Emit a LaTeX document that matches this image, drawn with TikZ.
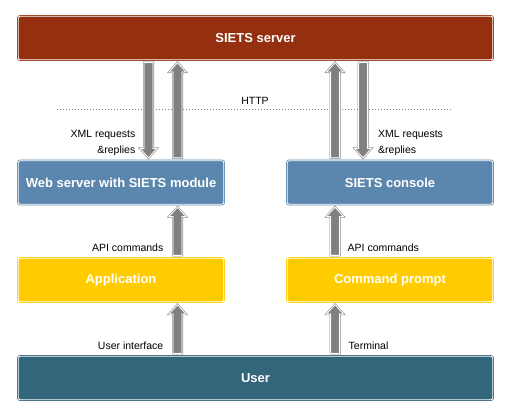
\documentclass[tikz,border=0pt]{standalone}
\usepackage{fontspec}
\setmainfont{Liberation Sans}
\usetikzlibrary{calc}
\definecolor{srv}{RGB}{148,48,16}
\definecolor{blu}{RGB}{91,135,174}
\definecolor{yel}{RGB}{255,204,0}
\definecolor{usr}{RGB}{51,102,122}
\definecolor{arr}{RGB}{128,128,128}
\definecolor{arrline}{RGB}{140,140,140}
\tikzset{
  box/.style={rectangle, rounded corners=2pt, line width=0.7pt, double=white, double distance=0.9pt,
    inner sep=0pt, minimum height=43.5pt, text=white, font=\fontsize{13}{15}\selectfont\bfseries},
  lbl/.style={inner sep=0pt, font=\fontsize{10.5}{16}\selectfont},
  blk/.style={draw=arrline, fill=arr, line width=0.6pt, double=white, double distance=0.8pt}
}
\newcommand{\uparr}[2]{%
  \path let \p1=(#1), \p2=(#2) in
   [blk] (\x1-4.5pt,\y1+2.5pt) -- (\x1-4.5pt,\y2-12pt) -- (\x1-8.5pt,\y2-12pt) -- (\x1,\y2-2.5pt)
   -- (\x1+8.5pt,\y2-12pt) -- (\x1+4.5pt,\y2-12pt) -- (\x1+4.5pt,\y1+2.5pt) -- cycle;}
\newcommand{\downarr}[2]{%
  \path let \p1=(#1), \p2=(#2) in
   [blk] (\x1-4.5pt,\y1-2.5pt) -- (\x1-4.5pt,\y2+12pt) -- (\x1-8.5pt,\y2+12pt) -- (\x1,\y2+2.5pt)
   -- (\x1+8.5pt,\y2+12pt) -- (\x1+4.5pt,\y2+12pt) -- (\x1+4.5pt,\y1-2.5pt) -- cycle;}
\begin{document}
\begin{tikzpicture}[x=1pt,y=-1pt]
\useasboundingbox (0,0) rectangle (508,411);
\node[box, draw=srv, fill=srv, minimum width=474.5pt] (server) at (255.5,38) {SIETS server};
\node[box, draw=blu, fill=blu, minimum width=205.5pt] (web) at (121,182.5) {Web server with SIETS module};
\node[box, draw=blu, fill=blu, minimum width=205.5pt] (console) at (390,182.5) {SIETS console};
\node[box, draw=yel, fill=yel, minimum width=205.5pt] (app) at (121,280) {Application};
\node[box, draw=yel, fill=yel, minimum width=205.5pt] (cmd) at (390,280) {Command prompt};
\node[box, draw=usr, fill=usr, minimum width=474.5pt] (user) at (255.5,378) {User};

\coordinate (hl) at (57,110);
\coordinate (hr) at (452,110);
\draw[arr, dotted, line width=1pt] (hl) -- (hr);
\node[lbl] (http) at (255,101) {HTTP};

\downarr{server.south -| 148.5,0}{web.north -| 148.5,0}
\uparr{web.north -| 177.5,0}{server.south -| 177.5,0}
\uparr{console.north -| 335,0}{server.south -| 335,0}
\downarr{server.south -| 363,0}{console.north -| 363,0}
\uparr{app.north -| 177.5,0}{web.south -| 177.5,0}
\uparr{cmd.north -| 335,0}{console.south -| 335,0}
\uparr{user.north -| 177.5,0}{app.south -| 177.5,0}
\uparr{user.north -| 335,0}{cmd.south -| 335,0}

\node[lbl, align=right, anchor=east] (xml1) at (135.5,143) {XML requests\\\&replies};
\node[lbl, align=left, anchor=west] (xml2) at (378,143) {XML requests\\\&replies};
\node[lbl, anchor=east] (api1) at (163.5,248) {API commands};
\node[lbl, anchor=west] (api2) at (347.5,248) {API commands};
\node[lbl, anchor=east] (ui) at (163.5,346) {User interface};
\node[lbl, anchor=west] (term) at (348.5,346) {Terminal};
\end{tikzpicture}
\end{document}
